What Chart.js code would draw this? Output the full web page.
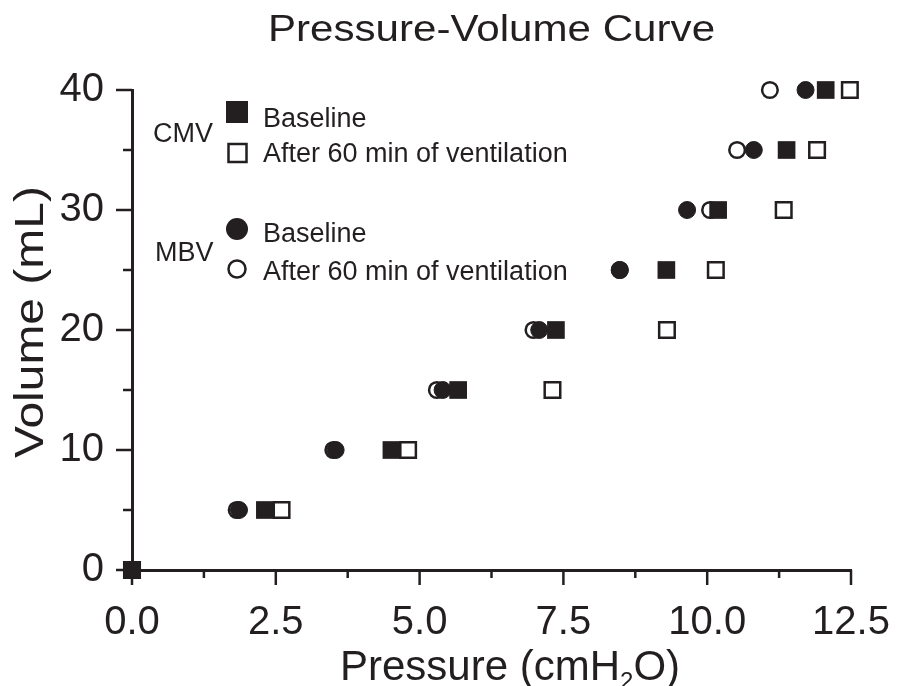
<!DOCTYPE html>
<html>
<head>
<meta charset="utf-8">
<script src="https://cdn.jsdelivr.net/npm/chart.js@4.4.1/dist/chart.umd.min.js"></script>
<style>
  body { margin: 0; background: #fff; }
  #wrap { width: 898px; height: 686px; }
</style>
</head>
<body>
<div id="wrap"><canvas id="pvChart" width="898" height="686"></canvas></div>
<script>
// volume steps (mL) and pressure read for each group (cmH2O)
const volumes = [0, 5, 10, 15, 20, 25, 30, 35, 40];
const cmvBaseline = [0, 2.31, 4.51, 5.67, 7.37, 9.29, 10.19, 11.38, 12.06];
const cmvAfter = [0, 2.60, 4.80, 7.31, 9.30, 10.15, 11.33, 11.91, 12.48];
const mbvBaseline = [0, 1.86, 3.54, 5.40, 7.08, 8.48, 9.65, 10.81, 11.71];
const mbvAfter = [0, 1.82, 3.50, 5.30, 6.98, 8.48, 10.05, 10.52, 11.09];

const xTicks = [0, 2.5, 5, 7.5, 10, 12.5];
const yTicks = [0, 10, 20, 30, 40];

const ink = '#231f20';
const FONT = 'Liberation Sans, Arial, sans-serif';

function toPoints(xs) {
    return xs.map((x, i) => ({ x: x, y: volumes[i] }));
}

function isMajor(v, list) {
    return list.some(t => Math.abs(t - v) < 1e-6);
}

// minor/major tick marks, axis titles, chart title and the grouped legend
const decorations = {
    id: 'decorations',
    afterDraw(chart) {
        const ctx = chart.ctx;
        const xs = chart.scales.x;
        const ys = chart.scales.y;
        const area = chart.chartArea;
        ctx.save();
        ctx.strokeStyle = ink;
        ctx.fillStyle = ink;
        ctx.lineWidth = 2.5;

        xs.ticks.forEach(t => {
            const px = xs.getPixelForValue(t.value);
            const len = isMajor(t.value, xTicks) ? 15 : 8;
            ctx.beginPath();
            ctx.moveTo(px, area.bottom);
            ctx.lineTo(px, area.bottom + len);
            ctx.stroke();
        });
        ys.ticks.forEach(t => {
            const py = ys.getPixelForValue(t.value);
            const len = isMajor(t.value, yTicks) ? 16 : 9;
            ctx.beginPath();
            ctx.moveTo(area.left, py);
            ctx.lineTo(area.left - len, py);
            ctx.stroke();
        });

        // title (source text is a little stretched sideways)
        ctx.save();
        ctx.translate((area.left + area.right) / 2, 41);
        ctx.scale(1.17, 1);
        ctx.textAlign = 'center';
        ctx.textBaseline = 'alphabetic';
        ctx.font = '36px ' + FONT;
        ctx.fillText('Pressure-Volume Curve', 0, 0);
        ctx.restore();

        // x axis title with subscript
        ctx.textAlign = 'left';
        ctx.textBaseline = 'alphabetic';
        ctx.font = '42px ' + FONT;
        let xPos = 340;
        const base = 680;
        const p1 = 'Pressure (cmH';
        ctx.fillText(p1, xPos, base);
        xPos += ctx.measureText(p1).width;
        ctx.font = '24px ' + FONT;
        ctx.fillText('2', xPos, base + 9);
        xPos += ctx.measureText('2').width;
        ctx.font = '42px ' + FONT;
        ctx.fillText('O)', xPos, base);

        // y axis title
        ctx.save();
        ctx.translate(43, 322);
        ctx.rotate(-Math.PI / 2);
        ctx.scale(1.17, 1);
        ctx.textAlign = 'center';
        ctx.font = '41px ' + FONT;
        ctx.fillText('Volume (mL)', 0, 0);
        ctx.restore();

        // legend
        ctx.font = '27px ' + FONT;
        ctx.textAlign = 'left';
        ctx.fillText('CMV', 153, 142);
        ctx.fillText('MBV', 155, 261);
        ctx.fillText('Baseline', 263, 127);
        ctx.fillText('After 60 min of ventilation', 263, 162);
        ctx.fillText('Baseline', 263, 242);
        ctx.fillText('After 60 min of ventilation', 263, 280);

        ctx.fillRect(226, 101, 22, 22);
        ctx.lineWidth = 2.5;
        ctx.strokeRect(228.5, 144, 18, 18);
        ctx.beginPath();
        ctx.arc(237, 229, 11, 0, Math.PI * 2);
        ctx.fill();
        ctx.beginPath();
        ctx.arc(237, 269, 8.5, 0, Math.PI * 2);
        ctx.stroke();
        ctx.restore();
    }
};

const ctx = document.getElementById('pvChart').getContext('2d');
new Chart(ctx, {
    type: 'scatter',
    data: {
        datasets: [
            {
                label: 'CMV Baseline',
                data: toPoints(cmvBaseline),
                pointStyle: 'rect',
                pointRadius: 12.5,
                backgroundColor: ink,
                borderColor: ink,
                borderWidth: 0,
                clip: false,
                order: 1
            },
            {
                label: 'CMV After 60 min of ventilation',
                data: toPoints(cmvAfter),
                pointStyle: 'rect',
                pointRadius: 11,
                backgroundColor: '#fff',
                borderColor: ink,
                borderWidth: 2.5,
                clip: false,
                order: 2
            },
            {
                label: 'MBV Baseline',
                data: toPoints(mbvBaseline),
                pointStyle: 'circle',
                pointRadius: 8.5,
                backgroundColor: ink,
                borderColor: ink,
                borderWidth: 1,
                clip: false,
                order: 3
            },
            {
                label: 'MBV After 60 min of ventilation',
                data: toPoints(mbvAfter),
                pointStyle: 'circle',
                pointRadius: 7.8,
                backgroundColor: '#fff',
                borderColor: ink,
                borderWidth: 2.5,
                clip: false,
                order: 4
            }
        ]
    },
    options: {
        responsive: false,
        animation: false,
        layout: { padding: { top: 90, right: 47, left: 0, bottom: 0 } },
        plugins: {
            legend: { display: false },
            title: { display: false },
            tooltip: { enabled: false }
        },
        scales: {
            x: {
                type: 'linear',
                min: 0,
                max: 12.5,
                afterFit: s => { s.height = 116; s.paddingLeft = 0; s.paddingRight = 0; },
                border: { display: true, color: ink, width: 3 },
                grid: { display: true, drawOnChartArea: false, drawTicks: false },
                ticks: {
                    stepSize: 1.25,
                    autoSkip: false,
                    maxRotation: 0,
                    padding: 29,
                    color: ink,
                    font: { family: FONT, size: 40 },
                    callback: v => isMajor(v, xTicks) ? v.toFixed(1) : ''
                }
            },
            y: {
                type: 'linear',
                min: 0,
                max: 40,
                afterFit: s => { s.width = 132; s.paddingTop = 0; s.paddingBottom = 0; },
                border: { display: true, color: ink, width: 3 },
                grid: { display: true, drawOnChartArea: false, drawTicks: false },
                ticks: {
                    stepSize: 5,
                    autoSkip: false,
                    padding: 28,
                    color: ink,
                    font: { family: FONT, size: 40 },
                    callback: v => isMajor(v, yTicks) ? String(v) : ''
                }
            }
        }
    },
    plugins: [decorations]
});
</script>
</body>
</html>
